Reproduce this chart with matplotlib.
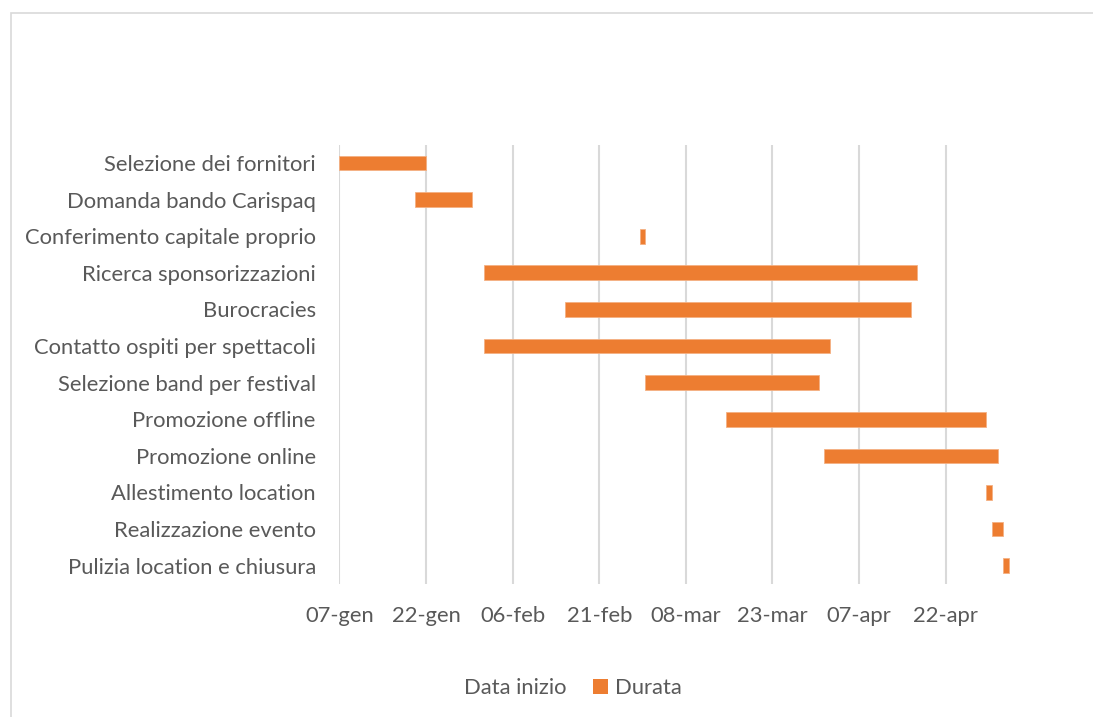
import matplotlib
matplotlib.use("Agg")
import matplotlib.pyplot as plt
import matplotlib.dates as mdates
from matplotlib.patches import Rectangle, Patch
from datetime import date

plt.rcParams['font.family'] = ['Lato', 'DejaVu Sans']

tasks = [
    "Selezione dei fornitori",
    "Domanda bando Carispaq",
    "Conferimento capitale proprio",
    "Ricerca sponsorizzazioni",
    "Burocracies",
    "Contatto ospiti per spettacoli",
    "Selezione band per festival",
    "Promozione offline",
    "Promozione online",
    "Allestimento location",
    "Realizzazione evento",
    "Pulizia location e chiusura",
]
start_dates = [
    "2019-01-07", "2019-01-20", "2019-02-28", "2019-02-01",
    "2019-02-15", "2019-02-01", "2019-03-01", "2019-03-15",
    "2019-04-01", "2019-04-29", "2019-04-30", "2019-05-02",
]
durations = [15, 10, 1, 75, 60, 60, 30, 45, 30, 1, 2, 1]

tick_dates = ["2019-01-07", "2019-01-22", "2019-02-06", "2019-02-21",
              "2019-03-08", "2019-03-23", "2019-04-07", "2019-04-22"]
tick_labels = ["07-gen", "22-gen", "06-feb", "21-feb",
               "08-mar", "23-mar", "07-apr", "22-apr"]

ORANGE = "#ED7D31"
TEXT = "#595959"
GRID = "#D9D9D9"
FS = 15.8

starts = [mdates.date2num(date.fromisoformat(s)) for s in start_dates]
ypos = list(range(len(tasks)))

fig = plt.figure(figsize=(10.93, 7.17), dpi=100)
ax = fig.add_axes([0.3106, 0.1855, 0.618, 0.6127])

# duration bars placed at their start dates
ax.barh(ypos, durations, left=starts, height=0.4, color=ORANGE,
        edgecolor="#F4B183", linewidth=0.6, zorder=3)

x0 = mdates.date2num(date.fromisoformat(tick_dates[0]))
ax.set_xlim(x0, x0 + 117)
ax.set_ylim(len(tasks) - 0.5, -0.5)

ax.set_xticks([mdates.date2num(date.fromisoformat(d)) for d in tick_dates])
ax.set_xticklabels(tick_labels)
ax.set_yticks(ypos)
ax.set_yticklabels(tasks)

ax.tick_params(axis="x", length=0, pad=16, labelsize=FS, labelcolor=TEXT)
ax.tick_params(axis="y", length=0, pad=17, labelsize=FS, labelcolor=TEXT)
ax.grid(axis="x", color=GRID, linewidth=1.5, zorder=0)
ax.set_axisbelow(True)
for s in ax.spines.values():
    s.set_visible(False)

handles = [Patch(facecolor="none", edgecolor="none", label="Data inizio"),
           Patch(facecolor=ORANGE, edgecolor="none", label="Durata")]
fig.legend(handles=handles, loc="center", bbox_to_anchor=(0.514, 0.04),
           ncol=2, frameon=False, fontsize=FS, labelcolor=TEXT,
           handlelength=0.7, handleheight=0.7, handletextpad=0.3,
           columnspacing=1.2)

# chart area border
fig.add_artist(Rectangle((11 / 1093, -0.05), 1.2, 1 - 13 / 717 + 0.05,
                         transform=fig.transFigure, fill=False,
                         edgecolor="#D9D9D9", linewidth=1.2))

fig.savefig("out.png", dpi=100, facecolor="white")
